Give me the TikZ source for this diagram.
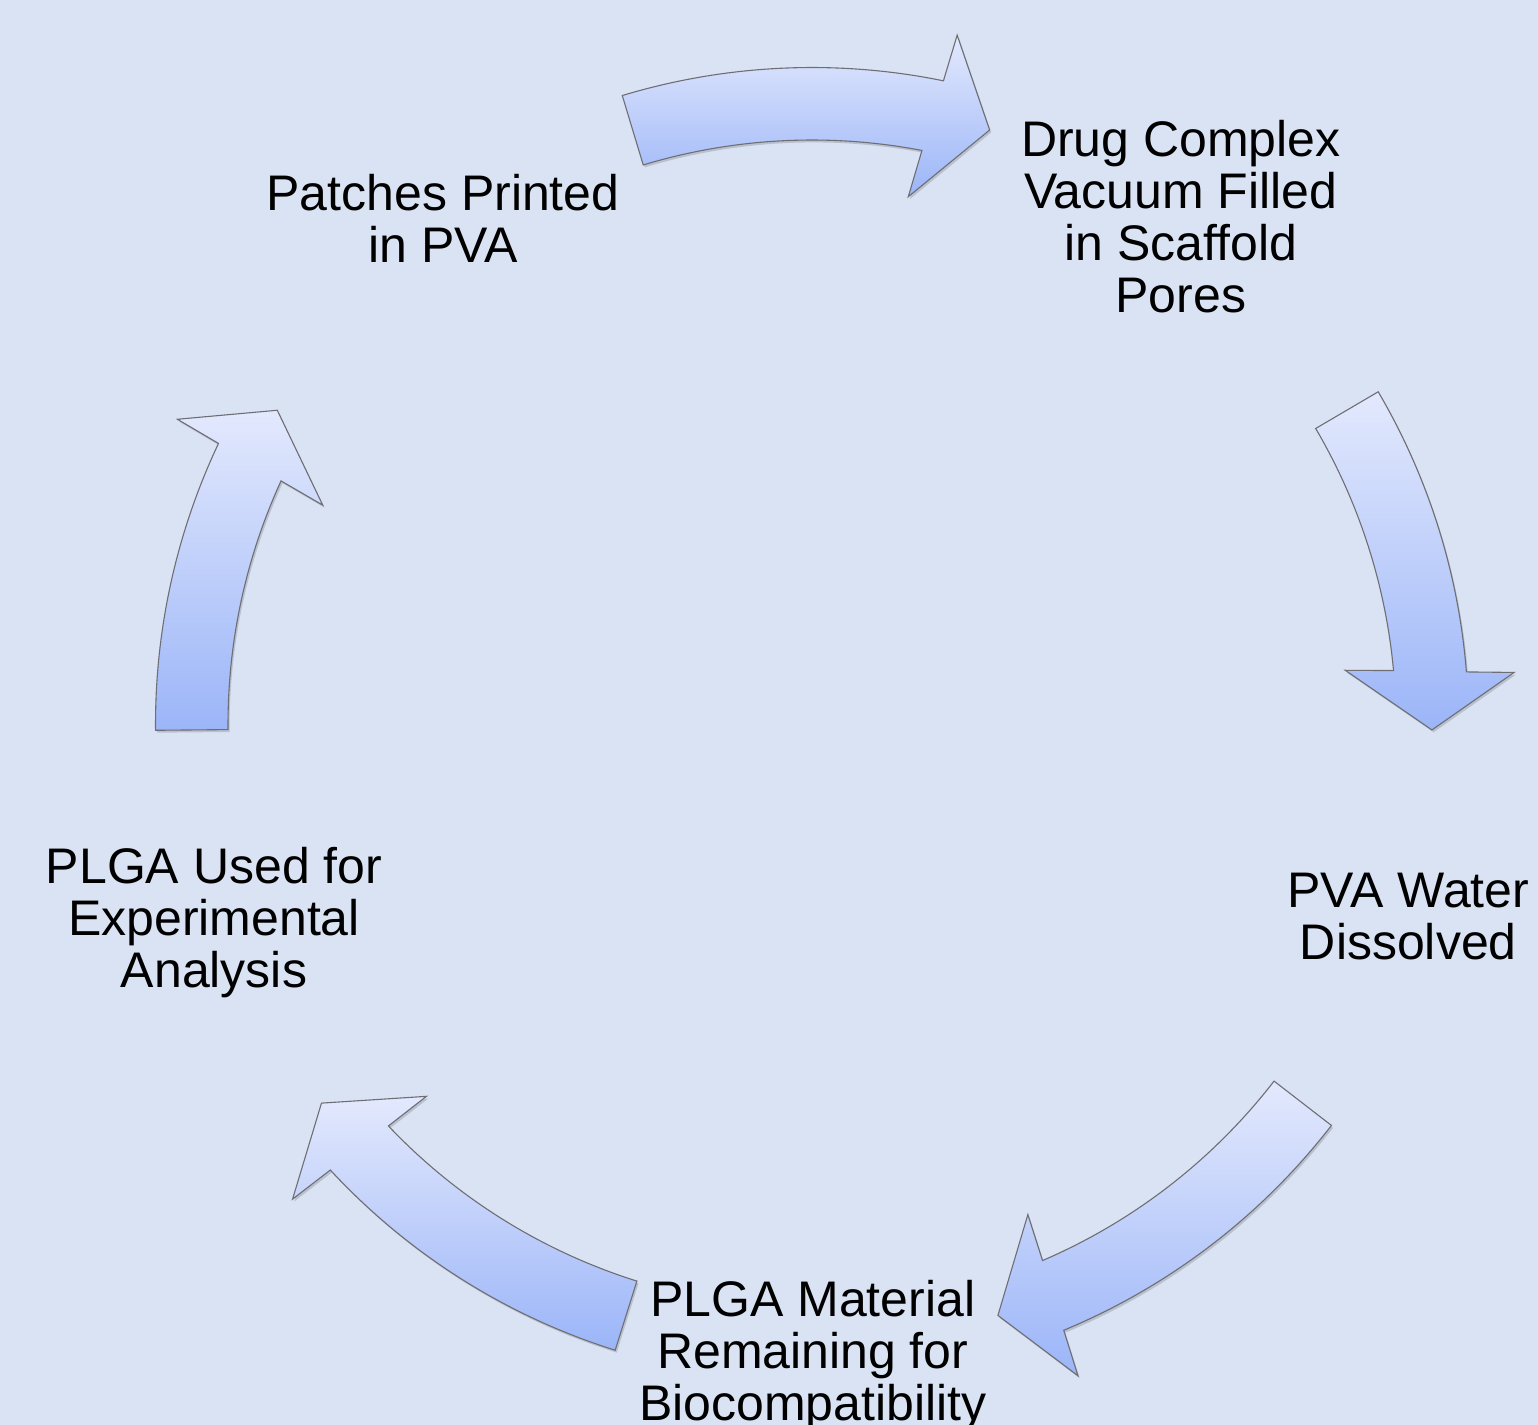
\documentclass[tikz,border=0pt]{standalone}
\usepackage{fontspec}
\setmainfont{Liberation Sans}
\usetikzlibrary{shadows}
\definecolor{bgcol}{HTML}{DAE3F3}
\definecolor{arrtop}{HTML}{E3E9FD}
\definecolor{arrbot}{HTML}{9BB5F8}
\definecolor{arredge}{HTML}{6E6E74}
\tikzset{
  cyclearrow/.style={draw=arredge, line width=0.55pt, line join=miter,
    top color=arrtop, bottom color=arrbot,
    drop shadow={shadow xshift=0.8pt, shadow yshift=-1.2pt, opacity=0.15, fill=black}},
  steplabel/.style={align=center, anchor=north, inner sep=0pt,
    font=\fontsize{25pt}{26pt}\selectfont, text=black}
}
% #1 name, #2 tail angle, #3 tip angle (clockwise arrow around the centre)
\newcommand{\cycarrow}[3]{%
  \pgfmathsetmacro\ojang{#3+5.1}%
  \pgfmathsetmacro\obang{#3+4.75}%
  \pgfmathsetmacro\ibang{#3+6.3}%
  \pgfmathsetmacro\ijang{#3+5.8}%
  \path[cyclearrow] (#2:656.5) arc[start angle=#2, end angle=\ojang, radius=656.5]
    -- (\obang:704) -- (#3:620) coordinate (#1) -- (\ibang:536) -- (\ijang:584)
    arc[start angle=\ijang, end angle=#2, radius=584] -- cycle;
}
\begin{document}
\begin{tikzpicture}[x=0.5pt, y=0.5pt]
  \fill[bgcol] (0,0) rectangle (1538,1425);
  \useasboundingbox (0,0) rectangle (1538,1425);
  \begin{scope}
    \clip (0,0) rectangle (1538,1425);
    % labels
    \node[steplabel] (n1) at (443,1251.5) {Patches Printed\\in PVA};
    \node[steplabel] (n2) at (1180.8,1304.8) {Drug Complex\\Vacuum Filled\\in Scaffold\\Pores};
    \node[steplabel] (n3) at (1408.3,552.3) {PVA Water\\Dissolved};
    \node[steplabel] (n4) at (812.8,145) {PLGA Material\\Remaining for\\Biocompatibility};
    \node[steplabel] (n5) at (214,578.5) {PLGA Used for\\Experimental\\Analysis};
    % arrows around the centre
    \begin{scope}[shift={(812,701)}]
      \cycarrow{a1}{106.8}{73.35}
      \cycarrow{a2}{30.4}{-0.55}
      \cycarrow{a3}{-37.7}{-72.55}
      \cycarrow{a4}{-107.45}{-142.3}
      \cycarrow{a5}{180.55}{149.6}
    \end{scope}
  \end{scope}
\end{tikzpicture}
\end{document}
